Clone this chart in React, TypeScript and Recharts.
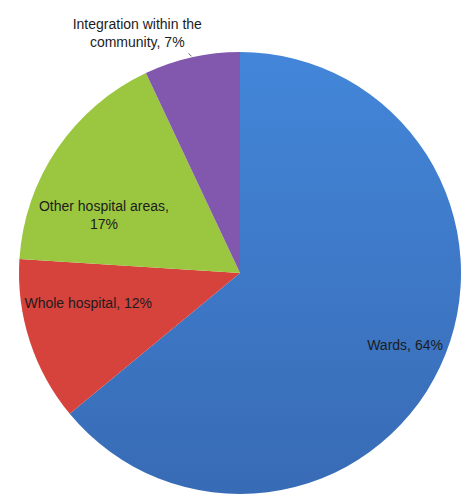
import React from "react";
import { Cell, Pie, PieChart } from "recharts";

const CATEGORIES = [
  "Wards",
  "Whole hospital",
  "Other hospital areas",
  "Integration within the community",
];
const SHARES = [64, 12, 17, 7];
const COLORS = ["url(#wardsFill)", "#d6423c", "#9bc740", "#8258ae"];

// label text lines, kept apart from the data
const LABEL_LINES = [
  ["Wards, 64%"],
  ["Whole hospital, 12%"],
  ["Other hospital areas,", "17%"],
  ["Integration within the", "community, 7%"],
];
// label placement: fraction of radius and angle shift from slice middle
const LABEL_RADIUS = [0.815, 0.7, 0.67, 1.18];
const LABEL_SHIFT = [1.6, -6.8, 11, 10.6];

const RAD = Math.PI / 180;
const data = CATEGORIES.map((name, i) => ({ name, value: SHARES[i] }));

function renderLabel(props: any) {
  const { cx, cy, midAngle, outerRadius, index } = props;
  const r = outerRadius * LABEL_RADIUS[index];
  const a = (midAngle + LABEL_SHIFT[index]) * RAD;
  const x = cx + r * Math.cos(-a);
  const y = cy + r * Math.sin(-a);
  const lines = LABEL_LINES[index];
  const lh = 18;
  const y0 = y - ((lines.length - 1) * lh) / 2;
  const edge = midAngle * RAD;
  const ex = cx + (outerRadius + 1) * Math.cos(-edge);
  const ey = cy + (outerRadius + 1) * Math.sin(-edge);
  return (
    <g key={`lbl-${index}`}>
      {index === 3 && (
        <line x1={ex} y1={ey} x2={ex - 3} y2={ey - 3} stroke="#666" strokeWidth={1} />
      )}
      {lines.map((t, j) => (
        <text
          key={j}
          x={x}
          y={y0 + j * lh}
          textAnchor="middle"
          dominantBaseline="central"
          fontFamily="'Liberation Sans', Arial, sans-serif"
          fontSize={14}
          fill="#1c1c1c"
        >
          {t}
        </text>
      ))}
    </g>
  );
}

export default function App() {
  return (
    <div style={{ position: "absolute", left: 0, top: 0, width: 462, height: 498, background: "#fff" }}>
      <PieChart width={462} height={498} margin={{ top: 0, right: 0, bottom: 0, left: 0 }}>
        <defs>
          <linearGradient id="wardsFill" x1="0" y1="0" x2="0" y2="1">
            <stop offset="0%" stopColor="#4386d9" />
            <stop offset="100%" stopColor="#386bb5" />
          </linearGradient>
        </defs>
        <Pie
          data={data}
          dataKey="value"
          nameKey="name"
          cx={240}
          cy={273}
          outerRadius={221}
          startAngle={90}
          endAngle={-270}
          stroke="none"
          label={renderLabel}
          labelLine={false}
          isAnimationActive={false}
        >
          {data.map((_, i) => (
            <Cell key={i} fill={COLORS[i]} />
          ))}
        </Pie>
      </PieChart>
    </div>
  );
}
